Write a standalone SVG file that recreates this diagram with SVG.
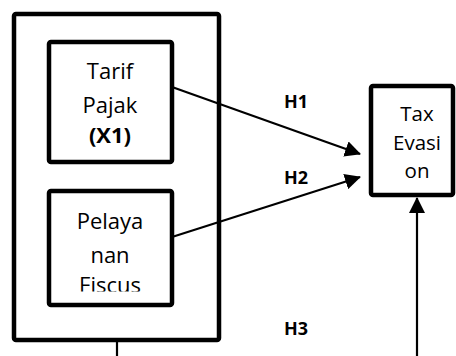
<svg xmlns="http://www.w3.org/2000/svg" width="456" height="356" viewBox="0 0 456 356">
<style>
.box{fill:#fff;stroke:#000;stroke-width:4.5;stroke-linejoin:round}
.t{font-family:"Open Sans","Noto Sans",sans-serif;fill:#000;text-anchor:middle}
.lbl{font-size:22px}
.tx{font-size:20.5px}
.h{font-family:"Open Sans","Noto Sans",sans-serif;font-weight:bold;font-size:18px;fill:#000;text-anchor:middle}
.ln{stroke:#000;stroke-width:2.2;fill:none}
</style>
<defs>
<marker id="ah" markerUnits="userSpaceOnUse" markerWidth="16" markerHeight="16" viewBox="0 0 16 16" refX="15" refY="8" orient="auto">
<path d="M0,0 L16,8 L0,16 Z" fill="#000"/>
</marker>
<clipPath id="c2"><rect x="49" y="191" width="123" height="100.5"/></clipPath>
</defs>
<rect width="456" height="356" fill="#fff"/>
<g id="outer">
<rect class="box" x="14" y="14" width="205" height="326" rx="2"/>
</g>
<g id="x1">
<rect class="box" x="49" y="42" width="123" height="120" rx="2"/>
<text class="t lbl" x="110" y="79">Tarif</text>
<text class="t lbl" x="110" y="113">Pajak</text>
<text class="t lbl" x="110" y="143" font-weight="bold">(X1)</text>
</g>
<g id="x2">
<rect class="box" x="49" y="191" width="123" height="114" rx="2"/>
<g clip-path="url(#c2)">
<text class="t lbl" x="110" y="229">Pelaya</text>
<text class="t lbl" x="110" y="263">nan</text>
<text class="t lbl" x="110" y="293">Fiscus</text>
</g>
</g>
<g id="y">
<rect class="box" x="371" y="86" width="82" height="109" rx="2"/>
<text class="t tx" x="417" y="121">Tax</text>
<text class="t tx" x="417" y="150">Evasi</text>
<text class="t tx" x="417" y="178">on</text>
</g>
<g id="connectors">
<line class="ln" x1="172" y1="87" x2="360" y2="154" marker-end="url(#ah)"/>
<line class="ln" x1="172" y1="237" x2="360" y2="177" marker-end="url(#ah)"/>
<line class="ln" x1="417" y1="356" x2="417" y2="198" marker-end="url(#ah)"/>
<line class="ln" x1="117" y1="341" x2="117" y2="356"/>
</g>
<g id="labels">
<text class="h" x="296" y="108">H1</text>
<text class="h" x="296" y="184">H2</text>
<text class="h" x="296" y="335">H3</text>
</g>
</svg>
